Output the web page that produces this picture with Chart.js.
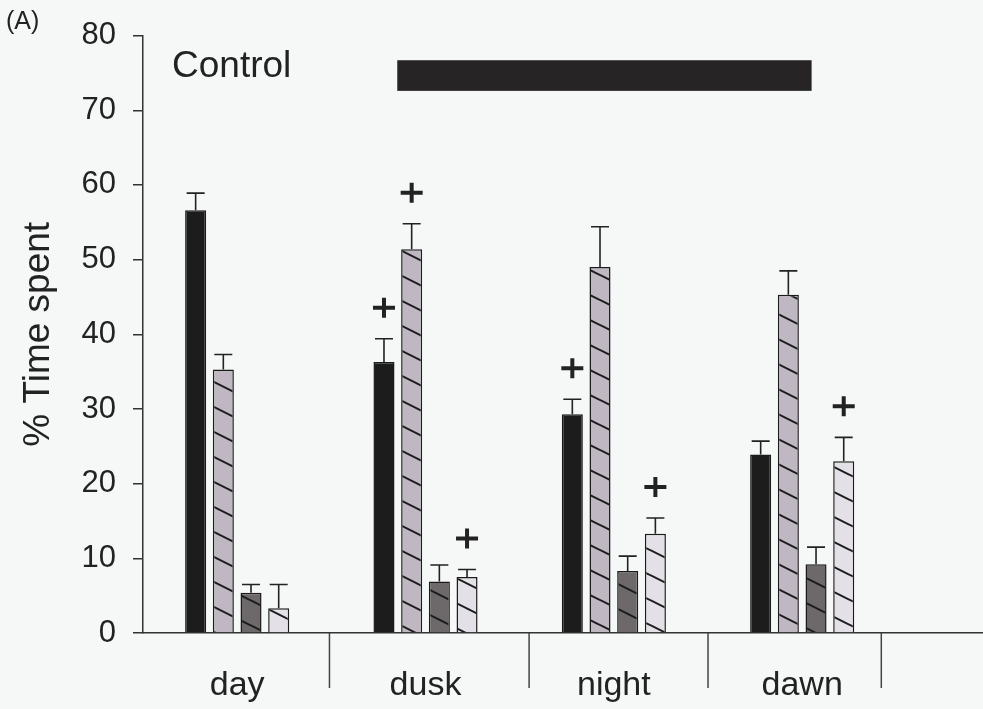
<!DOCTYPE html>
<html>
<head>
<meta charset="utf-8">
<script src="https://cdn.jsdelivr.net/npm/chart.js@4"></script>
<style>
  html, body { margin: 0; padding: 0; background: #f6f7f7; }
  #wrap { width: 983px; height: 709px; position: relative; }
</style>
</head>
<body>
<div id="wrap"><canvas id="myChart"></canvas></div>
<script>
// --- Data ---
const categories = ['day', 'dusk', 'night', 'dawn'];

const blackMeans = [56.6, 36.3, 29.3, 23.9];
const blackErr   = [2.3, 3.1, 2.0, 1.8];
const greyMeans  = [35.3, 51.4, 49.0, 45.3];
const greyErr    = [2.0, 3.4, 5.4, 3.2];
const darkMeans  = [5.4, 6.9, 8.3, 9.2];
const darkErr    = [1.1, 2.2, 2.0, 2.3];
const lightMeans = [3.3, 7.5, 13.3, 23.0];
const lightErr   = [3.2, 1.0, 2.1, 3.2];

// "+" markers (significant vs day)
const blackPlus = [false, true, true, false];
const greyPlus  = [false, true, false, false];
const darkPlus  = [false, false, false, false];
const lightPlus = [false, true, true, true];

// y-axis ticks
const yMin = 0, yMax = 80, yStep = 10;

// dark period bar (x in category units, y in % units)
const nightSpan  = [0.85, 3.05];
const nightLevel = [72.6, 76.7];

// category separators under the x axis
const dividers = [0.49, 1.55, 2.5, 3.42];

// --- hatch pattern helper ---
function hatch(bg) {
    const c = document.createElement('canvas');
    c.width = 50; c.height = 25;
    const g = c.getContext('2d');
    g.fillStyle = bg;
    g.fillRect(0, 0, 50, 25);
    g.strokeStyle = '#1b1b1b';
    g.lineWidth = 2;
    for (const j of [-1, 0, 1]) {
        g.beginPath();
        g.moveTo(-10, -5 + 25 * j);
        g.lineTo(60, 30 + 25 * j);
        g.stroke();
    }
    return g.createPattern(c, 'repeat');
}

const series = [
    { means: blackMeans, err: blackErr, plus: blackPlus, fill: '#1c1c1c' },
    { means: greyMeans,  err: greyErr,  plus: greyPlus,  fill: hatch('#bfb8c2') },
    { means: darkMeans,  err: darkErr,  plus: darkPlus,  fill: hatch('#6d6869') },
    { means: lightMeans, err: lightErr, plus: lightPlus, fill: hatch('#e3e0e8') },
];

const ink = '#222222';
const font = '"Liberation Sans", Arial, sans-serif';

// --- error bars, + marks, separators, annotations ---
const extras = {
    id: 'extras',
    afterDatasetsDraw(chart) {
        const { ctx, scales: { x, y } } = chart;
        ctx.save();
        ctx.strokeStyle = ink;

        // dark period bar
        const bx0 = x.getPixelForValue(nightSpan[0]);
        const bx1 = x.getPixelForValue(nightSpan[1]);
        const by0 = y.getPixelForValue(nightLevel[1]);
        const by1 = y.getPixelForValue(nightLevel[0]);
        ctx.fillStyle = '#262424';
        ctx.fillRect(bx0, by0, bx1 - bx0, by1 - by0);

        series.forEach((s, i) => {
            const meta = chart.getDatasetMeta(i);
            meta.data.forEach((bar, j) => {
                const top = y.getPixelForValue(s.means[j] + s.err[j]);
                ctx.lineWidth = 1.6;
                ctx.beginPath();
                ctx.moveTo(bar.x, bar.y);
                ctx.lineTo(bar.x, top);
                ctx.moveTo(bar.x - 9, top);
                ctx.lineTo(bar.x + 9, top);
                ctx.stroke();
                if (s.plus[j]) {
                    const cy = top - 31;
                    ctx.lineWidth = 4;
                    ctx.beginPath();
                    ctx.moveTo(bar.x - 11, cy);
                    ctx.lineTo(bar.x + 11, cy);
                    ctx.moveTo(bar.x, cy - 10);
                    ctx.lineTo(bar.x, cy + 10);
                    ctx.stroke();
                }
            });
        });

        // separators below the axis
        ctx.lineWidth = 1.5;
        ctx.strokeStyle = '#444';
        dividers.forEach(d => {
            const px = x.getPixelForValue(d);
            ctx.beginPath();
            ctx.moveTo(px, y.bottom);
            ctx.lineTo(px, y.bottom + 55);
            ctx.stroke();
        });

        // texts
        ctx.fillStyle = ink;
        ctx.textBaseline = 'alphabetic';
        ctx.textAlign = 'left';
        ctx.font = '37px ' + font;
        ctx.fillText('Control', 172, 77);
        ctx.font = '25px ' + font;
        ctx.fillText('(A)', 6, 29);
        ctx.restore();
    }
};

// --- Chart ---
const myChart = new Chart(document.getElementById('myChart'), {
    type: 'bar',
    data: {
        datasets: series.map(s => ({
            data: s.means.map((v, i) => ({ x: i, y: v })),
            backgroundColor: s.fill,
            borderColor: '#1b1b1b',
            borderWidth: 1.5,
            categoryPercentage: 0.588,
            barPercentage: 0.76,
        }))
    },
    options: {
        responsive: true,
        maintainAspectRatio: false,
        devicePixelRatio: 1,
        animation: false,
        layout: { padding: { top: 34, right: 0, left: 0, bottom: 0 } },
        plugins: {
            legend: { display: false },
            tooltip: { enabled: false }
        },
        scales: {
            x: {
                type: 'linear',
                offset: false,
                min: -0.5,
                max: 3.96,
                afterBuildTicks: s => { s.ticks = categories.map((c, i) => ({ value: i })); },
                afterFit: s => { s.height = 76; },
                ticks: {
                    callback: v => categories[v],
                    color: ink,
                    padding: 32,
                    maxRotation: 0,
                    autoSkip: false,
                    font: { family: font, size: 34 }
                },
                grid: { display: false, drawTicks: false },
                border: { display: true, color: '#333', width: 1.5 }
            },
            y: {
                min: yMin,
                max: yMax,
                afterFit: s => { s.width = 143; },
                ticks: {
                    stepSize: yStep,
                    color: ink,
                    padding: 17,
                    font: { family: font, size: 31 }
                },
                grid: { drawOnChartArea: false, drawTicks: true, tickLength: 10, color: '#333', lineWidth: 1.5 },
                border: { display: true, color: '#333', width: 1.5 },
                title: {
                    display: true,
                    text: '% Time spent',
                    color: ink,
                    padding: { top: 20, bottom: 0 },
                    font: { family: font, size: 37, lineHeight: 1 }
                }
            }
        }
    },
    plugins: [extras]
});
</script>
</body>
</html>
